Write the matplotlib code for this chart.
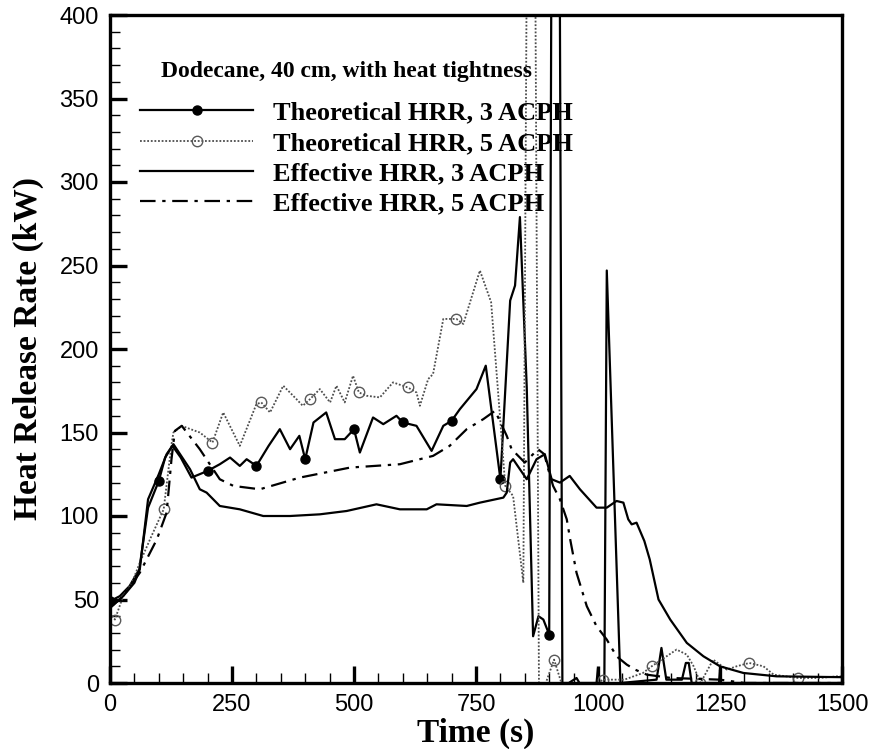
import numpy as np
import matplotlib
matplotlib.use("Agg")
import matplotlib.pyplot as plt
from matplotlib.ticker import MultipleLocator

# ---------------- data ----------------
theo3_t = [0, 20, 40, 60, 78, 100, 113, 128, 145, 167, 200, 225, 246, 266, 280, 300, 325, 348,
           369, 388, 400, 417, 443, 461, 481, 500, 512, 539, 560, 587, 600, 628, 659, 683,
           700, 717, 751, 770, 800, 820, 830, 840, 854, 867, 878, 888, 900, 912.5, 927,
           940, 956, 962, 997, 1000, 1003, 1013, 1018, 1046, 1120, 1130, 1140, 1172, 1180,
           1186, 1192, 1248, 1250, 1252, 1500]
theo3_v = [49, 52, 58, 68, 105, 121, 135, 142, 135, 123, 127, 131, 135, 130, 134, 130, 142, 152,
           140, 148, 134, 156, 162, 146, 146, 152, 138, 159, 155, 160, 156, 154, 139, 154,
           157, 164, 176, 190, 122, 229, 238, 279, 177, 28, 40, 38, 29, 1150, 0,
           0, 3, 0, 0, 9, 0, 0, 247, 0, 2, 21, 2, 2, 12,
           12, 0, 0, 8, 0, 0]
theo3_marker_times = [0, 100, 200, 300, 400, 500, 600, 700, 800, 900]

theo5_t = [0, 10, 27, 45, 61, 85, 110, 126, 130, 147, 165, 184, 210, 232, 266, 300, 310, 328,
           355, 382, 395, 410, 430, 451, 464, 481, 498, 510, 526, 553, 580, 610, 628, 635,
           652, 662, 683, 710, 724, 758, 781, 799, 810, 826, 847, 863, 879, 893, 910, 925,
           1000, 1010, 1054, 1092, 1110, 1161, 1182, 1196, 1210, 1236, 1264, 1284, 1310,
           1339, 1360, 1410, 1455, 1490, 1500]
theo5_v = [42, 38, 52, 60, 72, 88, 104, 143, 150, 154, 152, 150, 144, 162, 142, 167, 168, 162,
           178, 170, 166, 170, 176, 168, 178, 168, 184, 174, 172, 171, 180, 177, 174, 166,
           182, 185, 218, 218, 215, 247, 228, 160, 118, 112, 60, 910, 0, 0, 14, 0,
           0, 2, 2, 6, 10, 20, 17, 10, 0, 14, 8, 10, 12,
           10, 5, 3, 3, 4, 4]
theo5_marker_times = [10, 110, 210, 310, 410, 510, 610, 710, 810, 910, 1010, 1110, 1210, 1310, 1410]

eff3_t = [0, 27, 50, 61, 78, 100, 116, 130, 164, 184, 198, 225, 266, 314, 369, 430, 485, 546,
          594, 649, 669, 731, 758, 806, 813, 820, 826, 854, 874, 891, 905, 922, 942, 963,
          997, 1018, 1038, 1052, 1062, 1069, 1079, 1095, 1106, 1124, 1148, 1182, 1216, 1250,
          1298, 1366, 1469, 1500]
eff3_v = [45, 52, 60, 68, 110, 125, 137, 143, 128, 116, 114, 106, 104, 100, 100, 101, 103, 107,
          104, 104, 107, 106, 108, 111, 114, 132, 134, 122, 134, 137, 122, 120, 124, 116,
          105, 105, 109, 108, 98, 95, 96, 85, 74, 50, 38, 24, 16, 10,
          6, 4, 3.6, 3.5]

eff5_t = [0, 27, 61, 96, 116, 126, 133, 147, 184, 225, 253, 307, 389, 492, 594, 662, 696, 731,
          765, 789, 813, 823, 850, 877, 890, 898, 908, 922, 936, 943, 956, 977, 997, 1018,
          1038, 1059, 1076, 1100, 1150, 1250, 1300, 1500]
eff5_v = [45, 52, 66, 86, 102, 134, 151, 154, 140, 122, 118, 116, 123, 129, 131, 136, 142, 152,
          158, 163, 148, 140, 132, 140, 137, 128, 118, 110, 98, 86, 66, 46, 34, 26,
          16, 11, 8, 5, 3, 2, 0, 0]

legend_title = "Dodecane, 40 cm, with heat tightness"
labels = ["Theoretical HRR, 3 ACPH", "Theoretical HRR, 5 ACPH",
          "Effective HRR, 3 ACPH", "Effective HRR, 5 ACPH"]
x_ticks = [0, 250, 500, 750, 1000, 1250, 1500]
y_ticks = [0, 50, 100, 150, 200, 250, 300, 350, 400]

# ---------------- figure ----------------
serif = ["Liberation Serif", "DejaVu Serif"]
sans = ["Liberation Sans", "DejaVu Sans"]

fig = plt.figure(figsize=(8.71, 7.49), dpi=100)
ax = fig.add_axes([110 / 871, 1 - 683 / 749, 732 / 871, 668 / 749])

idx3 = [theo3_t.index(t) for t in theo3_marker_times]
idx5 = [theo5_t.index(t) for t in theo5_marker_times]

l1, = ax.plot(theo3_t, theo3_v, color="black", lw=1.6, marker="o", ms=6.5,
              mfc="black", mec="black", markevery=idx3, label=labels[0])
l2, = ax.plot(theo5_t, theo5_v, color="0.3", lw=1.3, linestyle=(0, (1, 1)),
              marker="o", ms=7.5, mfc="none", mec="0.35", mew=1.0, markevery=idx5,
              label=labels[1])
l3, = ax.plot(eff3_t, eff3_v, color="black", lw=1.6, label=labels[2])
l4, = ax.plot(eff5_t, eff5_v, color="black", lw=1.6, linestyle=(0, (7, 3, 1.5, 3)),
              label=labels[3])

ax.set_xlim(0, 1500)
ax.set_ylim(0, 400)
ax.set_xticks(x_ticks)
ax.set_yticks(y_ticks)
ax.xaxis.set_minor_locator(MultipleLocator(50))
ax.yaxis.set_minor_locator(MultipleLocator(10))
ax.tick_params(which="major", direction="in", length=12, width=2.4, pad=8,
               top=False, right=False, labelsize=17)
ax.tick_params(which="minor", direction="in", length=7, width=1.0, top=False, right=False)
for lab in ax.get_xticklabels() + ax.get_yticklabels():
    lab.set_family(sans)
for s in ax.spines.values():
    s.set_linewidth(2.4)

ax.set_xlabel("Time (s)", fontsize=24, fontweight="bold", family=serif, labelpad=1)
ax.set_ylabel("Heat Release Rate (kW)", fontsize=24, fontweight="bold", family=serif, labelpad=11)

ax.text(0.323, 0.9147, legend_title, transform=ax.transAxes, ha="center", va="center",
        fontsize=17, fontweight="bold", family=serif)
leg = ax.legend(handles=[l1, l2, l3, l4], loc="upper left",
                bbox_to_anchor=(0.041, 0.871), frameon=False, handlelength=4.3,
                handletextpad=0.75, labelspacing=0.26, borderaxespad=0.0, borderpad=0.0,
                prop={"family": serif, "weight": "bold", "size": 19})

fig.savefig("out.png", dpi=100)
